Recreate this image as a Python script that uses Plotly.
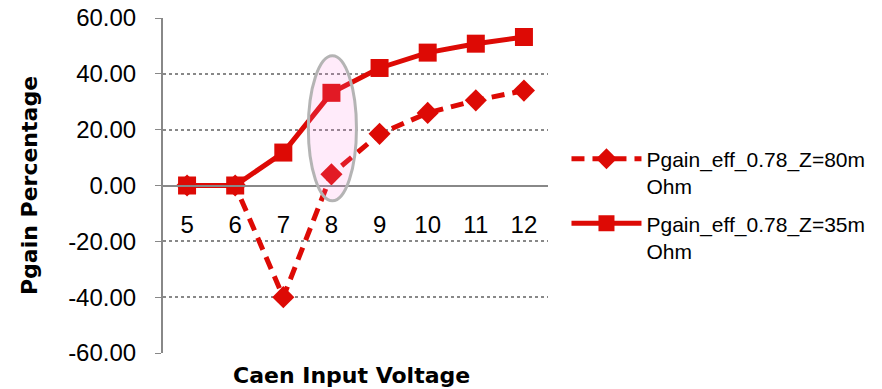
import plotly.graph_objects as go

voltage = [5, 6, 7, 8, 9, 10, 11, 12]
tick_labels = ["5", "6", "7", "8", "9", "10", "11", "12"]
pgain_80m = [0.0, 0.0, -40.0, 4.0, 18.5, 26.0, 30.5, 34.0]
pgain_35m = [0.0, 0.0, 11.8, 33.2, 42.1, 47.6, 50.8, 53.2]
y_ticks = [-60, -40, -20, 0, 20, 40, 60]
name_80m = "Pgain_eff_0.78_Z=80m<br>Ohm"
name_35m = "Pgain_eff_0.78_Z=35m<br>Ohm"

RED = "#DD0A05"
FONT = "Liberation Sans, Arial, sans-serif"
BFONT = "DejaVu Sans, sans-serif"

fig = go.Figure()
fig.add_trace(go.Scatter(
    x=voltage, y=pgain_80m, name=name_80m, mode="lines+markers", legendgroup="a",
    line=dict(color=RED, width=5, dash="13px,8px"),
    marker=dict(symbol="diamond", size=17, color=RED),
))
fig.add_trace(go.Scatter(
    x=voltage, y=pgain_35m, name=name_35m, mode="lines+markers", legendgroup="b",
    line=dict(color=RED, width=5),
    marker=dict(symbol="square", size=18, color=RED),
))

# highlight ellipse around 8 V
fig.add_shape(type="circle", xref="x", yref="y",
              x0=7.52, x1=8.52, y0=-5.5, y1=46.5,
              line=dict(color="#B4B4B4", width=3),
              fillcolor="rgba(255,120,220,0.15)", layer="above")

fig.update_layout(
    width=882, height=389,
    margin=dict(l=163, r=334, t=18, b=36, autoexpand=False),
    paper_bgcolor="white", plot_bgcolor="white",
    font=dict(family=FONT, size=24, color="black"),
    showlegend=True,
    legend=dict(x=1.048, y=0.64, xanchor="left", yanchor="top",
                font=dict(size=21, family=FONT), tracegroupgap=7,
                itemwidth=70, valign="top",
                bgcolor="rgba(0,0,0,0)"),
    xaxis=dict(
        range=[4.5, 12.5], tickvals=voltage, ticktext=tick_labels,
        anchor="free", position=0.5, automargin=False,
        showline=True, linecolor="#888888", linewidth=2,
        showgrid=False, zeroline=False, ticks="",
        ticklabelstandoff=18,
        tickfont=dict(size=24, family=FONT),
    ),
    yaxis=dict(
        range=[-60, 60], tickvals=y_ticks, automargin=False,
        ticktext=[f"{v:.2f}" for v in y_ticks],
        showline=True, linecolor="#888888", linewidth=2,
        showgrid=True, gridcolor="#888888", griddash="dot", gridwidth=1.5,
        zeroline=False, ticks="outside", ticklen=6, tickcolor="#888888",
        ticklabelstandoff=14,
        tickfont=dict(size=24, family=FONT),
        title=dict(text="<b>Pgain Percentage</b>", font=dict(size=22, family=BFONT), standoff=24),
    ),
    annotations=[dict(text="<b>Caen Input Voltage</b>", xref="paper", yref="paper",
                      x=0.49, y=0, yshift=-22, yanchor="middle", showarrow=False,
                      font=dict(size=22, family=BFONT))],
)

fig.write_html("out.html")
